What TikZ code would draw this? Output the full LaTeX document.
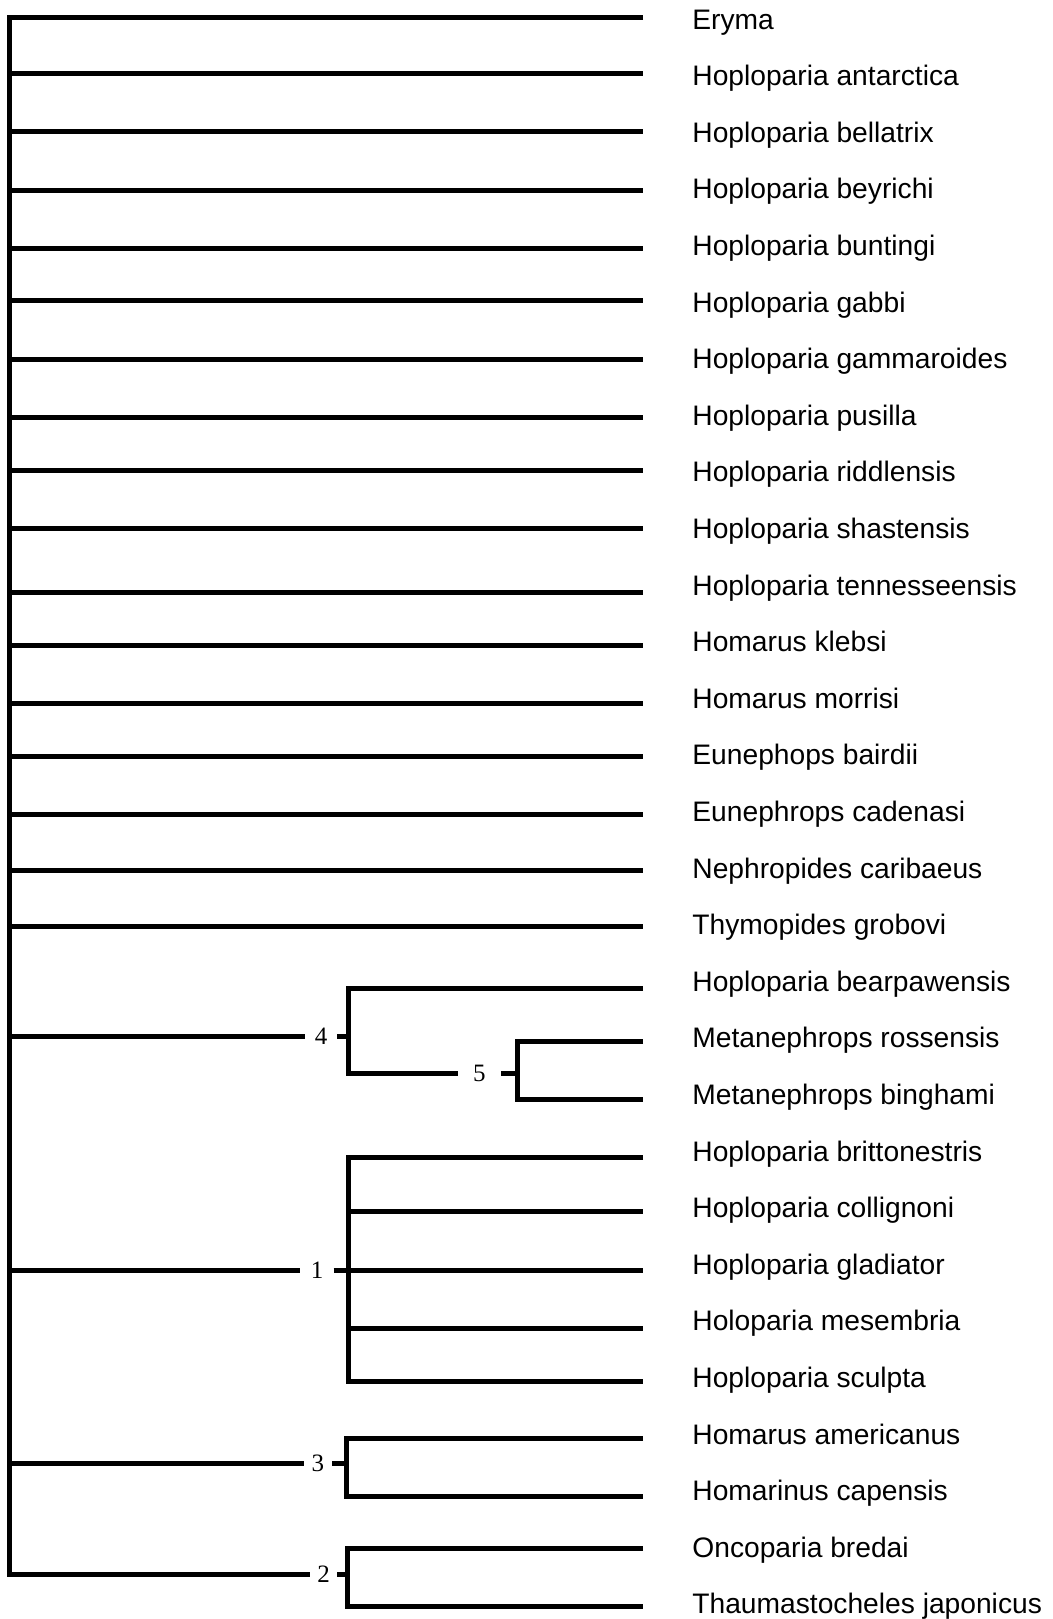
\documentclass[tikz,border=0pt]{standalone}
\usepackage{fontspec}
\setmainfont{Liberation Sans}
\newfontfamily\numfont{Liberation Serif}

\begin{document}
\begin{tikzpicture}[
  x=0.5pt, y=-0.5pt,
  br/.style={line width=2.5pt, draw=black},
  taxon/.style={anchor=base west, inner sep=0pt, font=\fontsize{14.1pt}{16pt}\selectfont},
  num/.style={inner sep=0pt, minimum height=0pt, font=\numfont\fontsize{12.5pt}{14pt}\selectfont},
]
  \useasboundingbox (0,0) rectangle (1053,1619);

  % leaf tips and taxon names
  \foreach \i/\y/\name in {0/17.7/Eryma, 1/73.3/Hoploparia antarctica,
      2/131.7/Hoploparia bellatrix, 3/190/Hoploparia beyrichi,
      4/248.3/Hoploparia buntingi, 5/300.7/Hoploparia gabbi,
      6/359/Hoploparia gammaroides, 7/417.5/Hoploparia pusilla,
      8/470.7/Hoploparia riddlensis, 9/528.3/Hoploparia shastensis,
      10/592.3/Hoploparia tennesseensis, 11/645/Homarus klebsi,
      12/703.3/Homarus morrisi, 13/756/Eunephops bairdii,
      14/814/Eunephrops cadenasi, 15/870.7/Nephropides caribaeus,
      16/926/Thymopides grobovi, 17/988.7/Hoploparia bearpawensis,
      18/1041/Metanephrops rossensis, 19/1099.7/Metanephrops binghami,
      20/1157.7/Hoploparia brittonestris, 21/1211.7/Hoploparia collignoni,
      22/1270/Hoploparia gladiator, 23/1328/Holoparia mesembria,
      24/1381/Hoploparia sculpta, 25/1438/Homarus americanus,
      26/1496/Homarinus capensis, 27/1548.7/Oncoparia bredai,
      28/1606/Thaumastocheles japonicus} {
    \coordinate (t\i) at (643,\y);
    \node[taxon] (l\i) at (692,{29+56.6*\i}) {\name};
  }

  % internal nodes and their numbers
  \coordinate (root) at (9.5,17.7);
  \coordinate (n4) at (348.3,1036);
  \coordinate (n5) at (517.3,1073.3);
  \coordinate (n1) at (348.3,1270);
  \coordinate (n3) at (346.7,1463.3);
  \coordinate (n2) at (347.7,1574);
  \node[num, minimum width=16pt] (lab4) at (321,1036) {4};
  \node[num, minimum width=21.35pt] (lab5) at (479.4,1073.3) {5};
  \node[num, minimum width=16.3pt] (lab1) at (317,1270) {1};
  \node[num, minimum width=13.85pt] (lab3) at (317.85,1463.3) {3};
  \node[num, minimum width=13.5pt] (lab2) at (323.5,1574) {2};

  % polytomy at the root
  \draw[br] (t0) -- (root) |- (lab2);
  \foreach \i in {1,...,16}
    \draw[br] (root |- t\i) -- (t\i);
  \draw[br] (root |- lab4) -- (lab4);
  \draw[br] (root |- lab1) -- (lab1);
  \draw[br] (root |- lab3) -- (lab3);

  % clades
  \draw[br] (lab4) -- (n4);
  \draw[br] (t17) -| (n4 |- lab5) -- (lab5);
  \draw[br] (lab5) -- (n5);
  \draw[br] (t18) -| (n5) |- (t19);

  \draw[br] (lab1) -- (n1);
  \draw[br] (t20) -| (n1) |- (t24);
  \foreach \i in {21,22,23}
    \draw[br] (n1 |- t\i) -- (t\i);

  \draw[br] (lab3) -- (n3);
  \draw[br] (t25) -| (n3) |- (t26);

  \draw[br] (lab2) -- (n2);
  \draw[br] (t27) -| (n2) |- (t28);
\end{tikzpicture}
\end{document}
